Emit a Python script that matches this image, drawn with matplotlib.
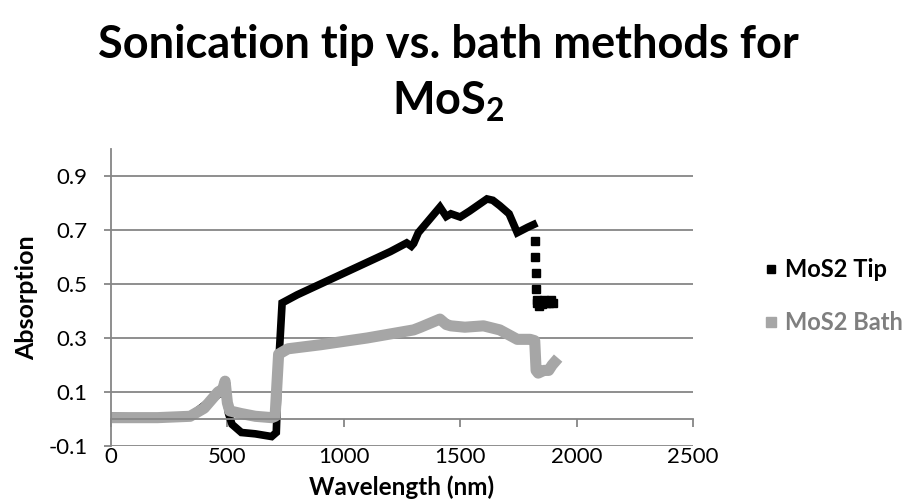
import matplotlib
matplotlib.use("Agg")
import matplotlib.pyplot as plt
from matplotlib.lines import Line2D

plt.rcParams['font.family'] = ['Lato', 'DejaVu Sans']
plt.rcParams['mathtext.fontset'] = 'custom'
plt.rcParams['mathtext.bf'] = 'Lato:bold'
plt.rcParams['mathtext.rm'] = 'Lato'

# MoS2 tip sonication
tip_x = [0, 200, 340, 400, 460, 490, 505, 520, 560, 620, 690, 710, 720, 735,
         800, 1000, 1200, 1270, 1290, 1300, 1320, 1413, 1440, 1460, 1500, 1540,
         1615, 1640, 1670, 1710, 1745, 1790, 1815]
tip_y = [0.01, 0.005, 0.01, 0.05, 0.09, 0.10, 0.02, -0.02, -0.05, -0.055, -0.065,
         -0.05, 0.2, 0.43, 0.46, 0.54, 0.62, 0.652, 0.64, 0.65, 0.69, 0.785, 0.75,
         0.76, 0.748, 0.77, 0.815, 0.81, 0.79, 0.76, 0.69, 0.71, 0.72]
# sparse points after the drop near 1820 nm
tip_tail_x = [1820, 1822, 1824, 1826, 1828, 1830, 1840, 1850, 1860, 1870, 1880, 1890, 1900]
tip_tail_y = [0.66, 0.60, 0.54, 0.48, 0.44, 0.43, 0.42, 0.425, 0.44, 0.43, 0.43, 0.44, 0.43]

# MoS2 bath sonication
bath_x = [0, 200, 340, 400, 460, 480, 490, 500, 510, 560, 620, 690, 705, 720,
          760, 900, 1100, 1300, 1330, 1413, 1440, 1460, 1520, 1600, 1670, 1745,
          1800, 1820, 1826, 1835, 1860, 1880, 1895, 1905]
bath_y = [0.005, 0.005, 0.01, 0.04, 0.10, 0.11, 0.14, 0.06, 0.03, 0.02, 0.01,
          0.005, 0.01, 0.24, 0.26, 0.275, 0.30, 0.33, 0.34, 0.37, 0.35, 0.345,
          0.34, 0.345, 0.33, 0.295, 0.295, 0.29, 0.18, 0.17, 0.18, 0.18, 0.2, 0.21]

x_ticks = [0, 500, 1000, 1500, 2000, 2500]
y_ticks = [-0.1, 0.1, 0.3, 0.5, 0.7, 0.9]

black = "#000000"
grey = "#a6a6a6"
axis_grey = "#868686"

fig = plt.figure(figsize=(9.09, 5.01), dpi=100)
ax = fig.add_axes([0.1221, 0.1098, 0.6403, 0.5928])

ax.plot(tip_x, tip_y, color=black, lw=5.5, solid_joinstyle="miter")
ax.plot(tip_tail_x, tip_tail_y, color=black, lw=0, marker="s", ms=5.5)
ax.plot(bath_x, bath_y, color=grey, lw=8, solid_joinstyle="round")

ax.set_xlim(0, 2500)
ax.set_ylim(-0.1, 1.0)
ax.set_xticks(x_ticks)
ax.set_yticks(y_ticks)
ax.set_yticklabels([f"{v:.1f}" for v in y_ticks])
ax.yaxis.grid(True, color=axis_grey, lw=1.3)
ax.set_axisbelow(True)

for s in ["top", "right"]:
    ax.spines[s].set_visible(False)
ax.spines["left"].set_color(axis_grey)
ax.spines["left"].set_linewidth(1.3)
ax.spines["bottom"].set_position(("data", 0))
ax.spines["bottom"].set_color(axis_grey)
ax.spines["bottom"].set_linewidth(1.3)
ax.tick_params(axis="x", direction="out", length=6, width=1.3, color=axis_grey,
               pad=14, labelsize=16)
ax.tick_params(axis="y", direction="out", length=5, width=1.3, color=axis_grey,
               pad=12, labelsize=16)

ax.set_xlabel("Wavelength (nm)", fontsize=17.5, fontweight="bold")
ax.set_ylabel("Absorption", fontsize=18, fontweight="bold")
ax.xaxis.set_label_coords(0.5, -0.098)
ax.yaxis.set_label_coords(-0.126, 0.5)

fig.text(0.493, 0.853, "Sonication tip vs. bath methods for\nMoS$_\\mathbf{2}$",
         ha="center", va="center", fontsize=32.5, fontweight="bold",
         linespacing=1.4)

handles = [Line2D([], [], color=black, marker="s", ls="none", ms=5.5),
           Line2D([], [], color=grey, marker="s", ls="none", ms=6.5)]
leg = fig.legend(handles, ["MoS2 Tip", "MoS2 Bath"], loc="center left",
                 bbox_to_anchor=(0.842, 0.409), frameon=False, fontsize=17,
                 labelspacing=1.28, handlelength=0.5, handletextpad=0.35,
                 borderaxespad=0, borderpad=0)
for t, c in zip(leg.get_texts(), [black, "#7f7f7f"]):
    t.set_fontweight("bold")
    t.set_color(c)

fig.savefig("out.png", dpi=100)
